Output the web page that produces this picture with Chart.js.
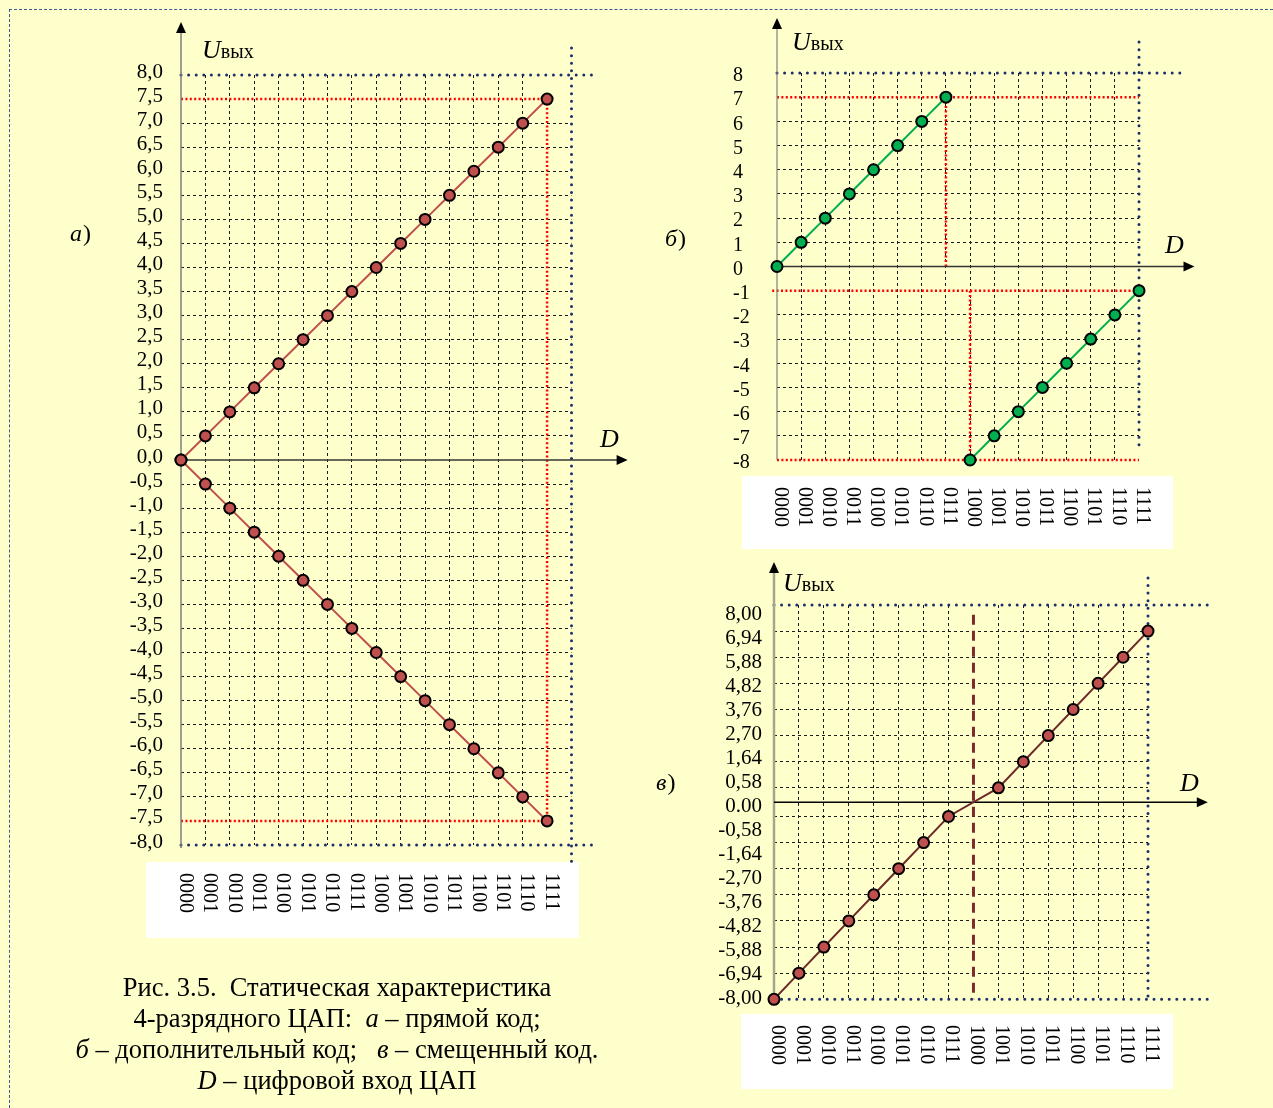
<!DOCTYPE html>
<html lang="ru">
<head>
<meta charset="utf-8">
<title>Статическая характеристика 4-разрядного ЦАП</title>
<script src="https://cdn.jsdelivr.net/npm/chart.js@4.4.1/dist/chart.umd.min.js"></script>
<style>
  html, body { margin: 0; padding: 0; }
  body { width: 1273px; height: 1108px; background: #FFFFCC; position: relative; overflow: hidden;
         font-family: "Liberation Serif", "Times New Roman", serif; color: #000; }
  .frame { position: absolute; left: 9px; top: 9px; width: 1264px; height: 1099px; box-sizing: border-box;
           border-top: 1px dashed #3d5a96; border-left: 1px dashed #3d5a96; }
  canvas { position: absolute; }
  #caption { position: absolute; left: 17px; top: 972px; width: 640px; text-align: center;
             font-size: 26.5px; line-height: 31px; white-space: pre; }
</style>
</head>
<body>
<div class="frame"></div>
<canvas id="chartA" width="640" height="950" style="left:0;top:0"></canvas>
<canvas id="chartB" width="633" height="552" style="left:640px;top:0"></canvas>
<canvas id="chartC" width="633" height="558" style="left:640px;top:550px"></canvas>
<div id="caption">Рис. 3.5.  Статическая характеристика
4-разрядного ЦАП:  <i>а</i> – прямой код;
<i>б</i> – дополнительный код;   <i>в</i> – смещенный код.
<i>D</i> – цифровой вход ЦАП</div>
<script>
// ---- digital input codes (shared by all three panels) ----
const codeLabels = ['0000','0001','0010','0011','0100','0101','0110','0111',
                    '1000','1001','1010','1011','1100','1101','1110','1111'];
const codes = [0,1,2,3,4,5,6,7,8,9,10,11,12,13,14,15];

// ---- (а) прямой код: positive and negative branches ----
const directUp   = [0.0,0.5,1.0,1.5,2.0,2.5,3.0,3.5,4.0,4.5,5.0,5.5,6.0,6.5,7.0,7.5];
const directDown = [0.0,-0.5,-1.0,-1.5,-2.0,-2.5,-3.0,-3.5,-4.0,-4.5,-5.0,-5.5,-6.0,-6.5,-7.0,-7.5];
const ticksA = [8.0,7.5,7.0,6.5,6.0,5.5,5.0,4.5,4.0,3.5,3.0,2.5,2.0,1.5,1.0,0.5,0.0,
                -0.5,-1.0,-1.5,-2.0,-2.5,-3.0,-3.5,-4.0,-4.5,-5.0,-5.5,-6.0,-6.5,-7.0,-7.5,-8.0];

// ---- (б) дополнительный код ----
const twosValues = [0,1,2,3,4,5,6,7,-8,-7,-6,-5,-4,-3,-2,-1];
const ticksB = [8,7,6,5,4,3,2,1,0,-1,-2,-3,-4,-5,-6,-7,-8];

// ---- (в) смещенный код (no marker at 1000) ----
const offsetValues = [-8.00,-6.94,-5.88,-4.82,-3.76,-2.70,-1.64,-0.58,null,0.58,1.64,2.70,3.76,4.82,5.88,6.94];
const ticksC = [8.00,6.94,5.88,4.82,3.76,2.70,1.64,0.58,0.00,-0.58,-1.64,-2.70,-3.76,-4.82,-5.88,-6.94,-8.00];
const ticksCText = ['8,00','6,94','5,88','4,82','3,76','2,70','1,64','0,58','0.00',
                    '-0,58','-1,64','-2,70','-3,76','-4,82','-5,88','-6,94','-8,00'];

// ---- styling ----
const SERIF = '"Liberation Serif", "Times New Roman", serif';
const GRID = '#1a1a1a';
const NONE = 'rgba(0,0,0,0)';
const BLUE_DOTS = { color: '#1B2F6B', width: 3, dash: [0, 7.6], cap: 'round' };
const RED_DOTS  = { color: '#FF0000', width: 2.5, dash: [2, 2.4] };
const MAROON_DASH = { color: '#7B2C2C', width: 3, dash: [10, 6] };

function gridColor(hidden) {
  return ctx => (ctx.tick && !hidden.some(h => Math.abs(h - ctx.tick.value) < 1e-9)) ? GRID : NONE;
}

function xAxis(max, hidden) {
  return {
    type: 'linear', min: 0, max,
    afterBuildTicks: s => { s.ticks = codes.map(v => ({ value: v })); },
    afterFit: s => { s.height = 0; },
    ticks: { display: false },
    grid: { color: gridColor(hidden), lineWidth: 1, drawTicks: false },
    border: { display: false, dash: [3, 3] }
  };
}

function baseOptions(padding, scales) {
  return {
    responsive: false, animation: false, devicePixelRatio: 1, events: [],
    layout: { padding },
    plugins: { legend: { display: false }, tooltip: { enabled: false }, title: { display: false } },
    scales
  };
}

function series(values, line, fill, extra) {
  return Object.assign({
    data: codes.map((c, i) => ({ x: c, y: values[i] })),
    borderColor: line, borderWidth: 2,
    pointRadius: 5.5, pointBackgroundColor: fill, pointBorderColor: '#000', pointBorderWidth: 2,
    tension: 0, clip: false, fill: false
  }, extra || {});
}

// ---- drawing helpers ----
function seg(ctx, x1, y1, x2, y2, st) {
  ctx.save();
  ctx.strokeStyle = st.color; ctx.lineWidth = st.width;
  ctx.setLineDash(st.dash || []); ctx.lineCap = st.cap || 'butt';
  ctx.beginPath(); ctx.moveTo(x1, y1); ctx.lineTo(x2, y2); ctx.stroke();
  ctx.restore();
}
function axesWithArrows(chart, o) {
  const { ctx } = chart, X = v => chart.scales.x.getPixelForValue(v), Y = v => chart.scales.y.getPixelForValue(v);
  const x0 = X(0), y0 = Y(0);
  const yTip = Y(o.yTop), xTip = X(o.xRight);
  seg(ctx, x0, Y(o.yBottom), x0, yTip + 6, { color: o.yColor, width: o.yWidth });
  seg(ctx, x0, y0, xTip - 6, y0, { color: o.xColor, width: o.xWidth });
  ctx.save();
  ctx.fillStyle = '#000';
  ctx.beginPath(); ctx.moveTo(x0, yTip); ctx.lineTo(x0 - 5, yTip + 11); ctx.lineTo(x0 + 5, yTip + 11); ctx.closePath(); ctx.fill();
  ctx.beginPath(); ctx.moveTo(xTip, y0); ctx.lineTo(xTip - 11, y0 - 5); ctx.lineTo(xTip - 11, y0 + 5); ctx.closePath(); ctx.fill();
  ctx.restore();
}
function hLine(chart, y, xa, xb, st) {
  const X = v => chart.scales.x.getPixelForValue(v), Y = chart.scales.y.getPixelForValue(y);
  seg(chart.ctx, X(xa), Y, X(xb), Y, st);
}
function vLine(chart, x, ya, yb, st) {
  const X = chart.scales.x.getPixelForValue(x), Y = v => chart.scales.y.getPixelForValue(v);
  seg(chart.ctx, X, Y(ya), X, Y(yb), st);
}
function drawUout(ctx, x, y) {
  ctx.save(); ctx.fillStyle = '#000'; ctx.textAlign = 'left'; ctx.textBaseline = 'alphabetic';
  ctx.font = 'italic 26px ' + SERIF; ctx.fillText('U', x, y);
  const w = ctx.measureText('U').width;
  ctx.font = '20px ' + SERIF; ctx.fillText('вых', x + w, y);
  ctx.restore();
}
function drawItalic(ctx, text, x, y, size) {
  ctx.save(); ctx.fillStyle = '#000'; ctx.textAlign = 'left'; ctx.textBaseline = 'alphabetic';
  ctx.font = 'italic ' + size + 'px ' + SERIF; ctx.fillText(text, x, y);
  ctx.restore();
}
function drawTag(ctx, letter, x, y) {
  ctx.save(); ctx.fillStyle = '#000'; ctx.textAlign = 'left'; ctx.textBaseline = 'alphabetic';
  ctx.font = 'italic 24px ' + SERIF; ctx.fillText(letter, x, y);
  const w = ctx.measureText(letter).width;
  ctx.font = '24px ' + SERIF; ctx.fillText(')', x + w + 1, y);
  ctx.restore();
}
function drawCodes(chart, box, top, dx) {
  const { ctx } = chart;
  ctx.save();
  ctx.fillStyle = '#FFFFFF';
  ctx.fillRect(box[0], box[1], box[2], box[3]);
  ctx.fillStyle = '#000';
  ctx.font = '20px ' + SERIF;
  ctx.textAlign = 'left'; ctx.textBaseline = 'middle';
  codes.forEach((c, i) => {
    const x = chart.scales.x.getPixelForValue(c) + dx;
    ctx.save(); ctx.translate(x, top); ctx.rotate(Math.PI / 2);
    ctx.fillText(codeLabels[i], 0, 0);
    ctx.restore();
  });
  ctx.restore();
}

// ================= (а) прямой код =================
new Chart(document.getElementById('chartA'), {
  type: 'line',
  data: { datasets: [
    series(directUp,   '#C0504D', '#C0504D'),
    series(directDown, '#C0504D', '#C0504D')
  ] },
  options: baseOptions({ left: 121, right: 68.5, top: 75, bottom: 105 }, {
    x: xAxis(16, [0, 15, 16]),
    y: {
      type: 'linear', min: -8, max: 8,
      afterBuildTicks: s => { s.ticks = ticksA.map(v => ({ value: v })); },
      afterFit: s => { s.width = 60; },
      ticks: { autoSkip: false, padding: 18, labelOffset: -3, color: '#000', font: { family: SERIF, size: 21 },
               callback: v => v.toFixed(1).replace('.', ',') },
      grid: { color: gridColor([8, 7.5, 0, -7.5, -8]), lineWidth: 1, drawTicks: false },
      border: { display: false, dash: [3, 3] }
    }
  }),
  plugins: [{
    id: 'panelA',
    beforeDraw(chart) { drawCodes(chart, [146, 862, 433, 76], 873, 4); },
    beforeDatasetsDraw(chart) {
      hLine(chart, 8, 0, 16.9, BLUE_DOTS);
      hLine(chart, -8, 0, 16.9, BLUE_DOTS);
      vLine(chart, 16, 8.56, -8.42, BLUE_DOTS);
      hLine(chart, 7.5, 0, 15, RED_DOTS);
      hLine(chart, -7.5, 0, 15, RED_DOTS);
      vLine(chart, 15, 7.5, -7.5, RED_DOTS);
      axesWithArrows(chart, { yTop: 9.1, yBottom: -8.06, xRight: 18.3,
                              yColor: '#7F7F7F', yWidth: 1.5, xColor: '#333333', xWidth: 1.5 });
    },
    afterDraw(chart) {
      const ctx = chart.ctx;
      drawUout(ctx, 202, 58);
      drawItalic(ctx, 'D', 600, 447, 26);
      drawTag(ctx, 'а', 70, 241);
    }
  }]
});

// ================= (б) дополнительный код =================
new Chart(document.getElementById('chartB'), {
  type: 'line',
  data: { datasets: [
    series(twosValues, '#00B050', '#00B050', {
      segment: { borderColor: c => twosValues[c.p1DataIndex] < twosValues[c.p0DataIndex] ? NONE : '#00B050' }
    })
  ] },
  options: baseOptions({ left: 93, right: 134, top: 73, bottom: 92 }, {
    x: xAxis(15, [0, 15]),
    y: {
      type: 'linear', min: -8, max: 8,
      afterBuildTicks: s => { s.ticks = ticksB.map(v => ({ value: v })); },
      afterFit: s => { s.width = 44; },
      ticks: { autoSkip: false, crossAlign: 'far', labelOffset: 3, color: '#000', font: { family: SERIF, size: 20 },
               callback: v => String(v) },
      grid: { color: gridColor([8, 7, 0, -1, -8]), lineWidth: 1, drawTicks: false },
      border: { display: false, dash: [3, 3] }
    }
  }),
  plugins: [{
    id: 'panelB',
    beforeDraw(chart) { drawCodes(chart, [102, 476, 431, 73], 487, 3); },
    beforeDatasetsDraw(chart) {
      hLine(chart, 8, 0, 16.8, BLUE_DOTS);
      vLine(chart, 15, 9.28, -7.6, BLUE_DOTS);
      hLine(chart, 7, 0, 15, RED_DOTS);
      vLine(chart, 7, 7, 0, RED_DOTS);
      hLine(chart, -1, -0.2, 15, RED_DOTS);
      vLine(chart, 8, -1, -8, RED_DOTS);
      hLine(chart, -8, 0, 15, RED_DOTS);
      axesWithArrows(chart, { yTop: 10.27, yBottom: -8, xRight: 17.3,
                              yColor: '#808080', yWidth: 1.2, xColor: '#333333', xWidth: 1.5 });
    },
    afterDraw(chart) {
      const ctx = chart.ctx;
      drawUout(ctx, 152, 50);
      drawItalic(ctx, 'D', 525, 253, 26);
      drawTag(ctx, 'б', 25, 246);
    }
  }]
});

// ================= (в) смещенный код =================
new Chart(document.getElementById('chartC'), {
  type: 'line',
  data: { datasets: [
    series(offsetValues, '#6E2A2A', '#C0504D', { spanGaps: true })
  ] },
  options: baseOptions({ left: 64, right: 125, top: 55, bottom: 108.7 }, {
    x: xAxis(15, [0, 8, 15]),
    y: {
      type: 'linear', min: -8, max: 8, position: 'left',
      afterBuildTicks: s => { s.ticks = ticksC.map(v => ({ value: v })); },
      afterFit: s => { s.width = 0; },
      ticks: { display: false },
      grid: { color: gridColor([8, 0, -8]), lineWidth: 1, drawTicks: false },
      border: { display: false, dash: [3, 3] }
    },
    yl: {
      type: 'linear', position: 'left', min: -0.054, max: 16.375,
      afterBuildTicks: s => { s.ticks = ticksCText.map((t, i) => ({ value: ticksCText.length - 1 - i })); },
      afterFit: s => { s.width = 70; },
      ticks: { autoSkip: false, padding: 12, color: '#000', font: { family: SERIF, size: 21 },
               callback: v => ticksCText[ticksCText.length - 1 - v] },
      grid: { display: false, drawTicks: false },
      border: { display: false }
    }
  }),
  plugins: [{
    id: 'panelC',
    beforeDraw(chart) { drawCodes(chart, [101, 464, 432, 75], 475, 3); },
    beforeDatasetsDraw(chart) {
      hLine(chart, 8, 0, 17.5, BLUE_DOTS);
      hLine(chart, -8, 0, 17.6, BLUE_DOTS);
      vLine(chart, 15, 9.1, -8, BLUE_DOTS);
      vLine(chart, 8, 7.6, -8, MAROON_DASH);
      axesWithArrows(chart, { yTop: 9.74, yBottom: -8, xRight: 17.4,
                              yColor: '#A6A68A', yWidth: 2.5, xColor: '#000000', xWidth: 1.5 });
    },
    afterDraw(chart) {
      const ctx = chart.ctx;
      drawUout(ctx, 143, 41);
      drawItalic(ctx, 'D', 540, 241, 26);
      drawTag(ctx, 'в', 16, 240);
    }
  }]
});
</script>
</body>
</html>
